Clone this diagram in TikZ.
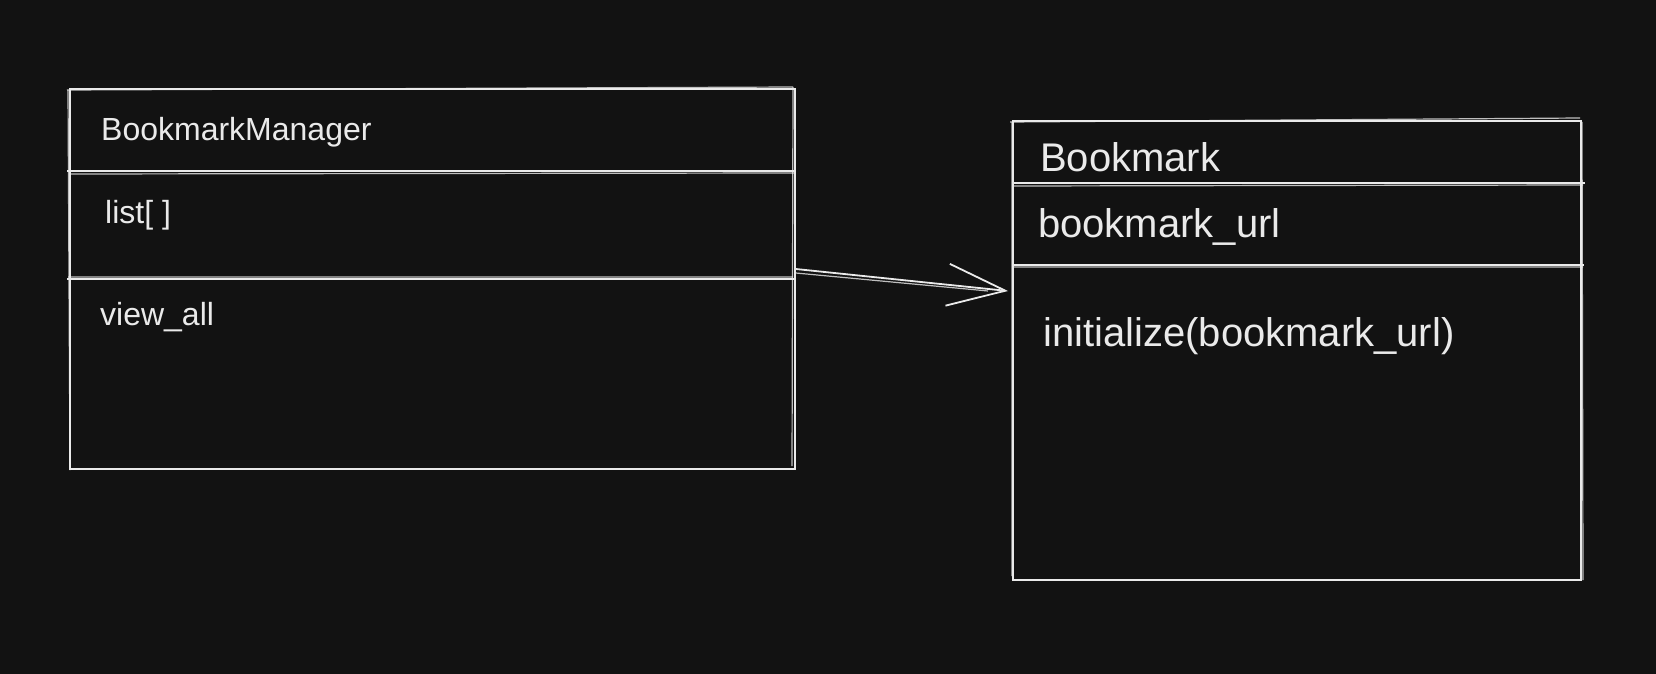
\documentclass[tikz,border=0pt]{standalone}
\usepackage{fontspec}
\setmainfont{Liberation Sans}
\usetikzlibrary{arrows.meta,calc}
\definecolor{bg}{HTML}{121212}
\definecolor{ink}{HTML}{EAEAEA}
\begin{document}
\begin{tikzpicture}[x=1pt,y=-1pt,
  sk/.style={draw=ink,line width=1.8pt},
  sk2/.style={draw=ink,line width=1.2pt,opacity=0.8},
  classbox/.style={draw=ink,line width=1.8pt,inner sep=0pt,anchor=north west},
  small/.style={text=ink,font=\fontsize{32}{36}\selectfont,anchor=base west,inner sep=0pt},
  big/.style={text=ink,font=\fontsize{40}{46}\selectfont,anchor=base west,inner sep=0pt}]
\fill[bg] (0,0) rectangle (1656,674);
\useasboundingbox (0,0) rectangle (1656,674);
% left class
\node[classbox,minimum width=725pt,minimum height=380pt] (bm) at (69,88) {};
\draw[sk2] (67,90) -- (793,87) (793,87) -- (792,466) (70,470) -- (68,90);
\coordinate (l1a) at (67,171); \coordinate (l1b) at (796,171);
\coordinate (l2a) at (67,279); \coordinate (l2b) at (794,279);
\draw[sk] (l1a) -- (l1b) (l2a) -- (l2b);
\draw[sk2] (69,174) -- (795,173) (68,277) -- (793,277);
\node[small] (bmname) at (101,140) {BookmarkManager};
\node[small] (bmattr) at (105,223) {list[ ]};
\node[small] (bmop) at (100,325) {view\_all};
% right class
\node[classbox,minimum width=568pt,minimum height=459pt] (b) at (1012,120) {};
\draw[sk2] (1010,122) -- (1580,118) (1582,122) -- (1583,580) (1012,576) -- (1012,122);
\coordinate (r1a) at (1012,183); \coordinate (r1b) at (1585,183);
\coordinate (r2a) at (1012,265); \coordinate (r2b) at (1584,265);
\draw[sk] (r1a) -- (r1b) (r2a) -- (r2b);
\draw[sk2] (1014,186) -- (1583,185) (1014,267) -- (1583,267);
\node[big] (bname) at (1040,171) {Bookmark};
\node[big] (battr) at (1038,237) {bookmark\_url};
\node[big] (bop) at (1043,346) {initialize(bookmark\_url)};
% association
\coordinate (as) at ($(bm.north east)+(0,181)$);
\coordinate (at) at ($(b.north west)+(-4,171)$);
\draw[sk,-{Straight Barb[length=58pt,width=42pt,line width=1.8pt]}] (as) -- (at);
\draw[sk2] ($(as)+(0,4)$) -- ($(at)+(-20,0)$);
\end{tikzpicture}
\end{document}
